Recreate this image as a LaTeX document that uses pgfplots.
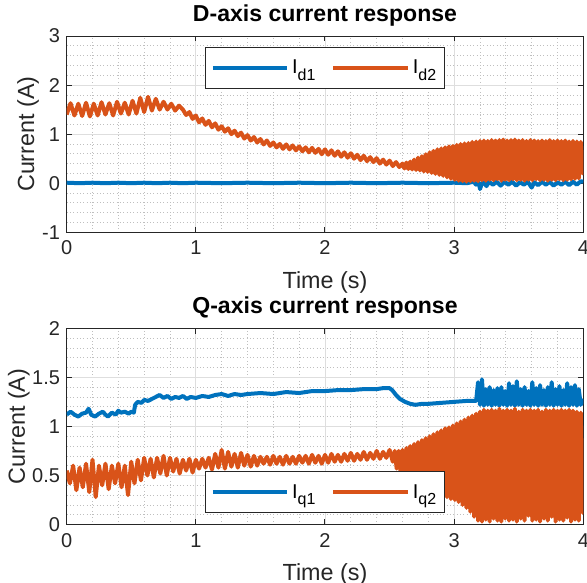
\documentclass[border=0pt]{standalone}
\usepackage{pgfplots}
\pgfplotsset{compat=1.18}
\usepackage{fontspec}
\setmainfont{Liberation Sans}
\definecolor{mblue}{rgb}{0,0.447,0.741}
\definecolor{morange}{rgb}{0.85,0.325,0.098}
\definecolor{axgray}{rgb}{0.15,0.15,0.15}
\pgfplotsset{
 mystyle/.style={
  scale only axis, width=387.5pt, height=147.2pt,
  xmin=0, xmax=4, xtick={0,1,2,3,4},
  minor x tick num=4, minor y tick num=4,
  grid=both,
  major grid style={line width=0.5pt, draw=black!13},
  minor grid style={line width=0.5pt, draw=black!25, dotted},
  axis line style={draw=axgray, line width=0.75pt},
  tick style={draw=axgray, line width=0.75pt},
  major tick length=4pt, minor tick length=0pt,
  tick align=inside,
  ticklabel style={font=\fontsize{15}{15}\selectfont, text=axgray},
  xticklabel style={yshift=-3pt},
  yticklabel style={xshift=-1.5pt},
  /pgf/number format/assume math mode=true,
  label style={font=\fontsize{17.5}{17.5}\selectfont, text=axgray},
  title style={font=\fontsize{17.3}{17.3}\selectfont\bfseries, at={(axis description cs:0.5,1)}, anchor=base, yshift=5pt},
  xlabel style={at={(axis description cs:0.5,0)}, anchor=base, yshift=-42pt},
  xlabel={Time (s)}, ylabel={Current (A)},
  legend columns=2,
  legend cell align=left,
  legend style={draw=axgray, line width=0.75pt, fill=white, font=\fontsize{15}{15}\selectfont, inner xsep=4pt, inner ysep=7.5pt, /tikz/every even column/.append style={column sep=10pt}},
  legend image code/.code={\draw[#1, line width=3pt] (0pt,0pt) -- (56pt,0pt);},
  every axis plot/.append style={line width=3pt, line join=round},
 }
}
\begin{document}
\begin{tikzpicture}
\begin{axis}[mystyle, at={(0,0)}, anchor=north west,
  ymin=-1, ymax=3, ytick={-1,0,1,2,3},
  ylabel style={at={(axis description cs:-0.0632,0.5)}, anchor=base},
  title={D-axis current response},
  legend style={at={(axis description cs:0.2677,0.944)}, anchor=north west}]
\addplot[mblue] coordinates {(0,0.01)(0.1,0.0)(0.2,0.01)(0.3,0.0)(0.4,0.01)(0.5,0.0)(0.6,0.01)(0.7,0.0)(0.8,0.01)(0.9,0.0)(1.0,0.01)(1.2,0.0)(1.4,0.01)(1.6,0.0)(1.8,0.01)(2.0,0.0)(2.2,0.01)(2.4,0.0)(2.6,0.01)(2.8,0.0)(3.0,0.01)(3.1,0.0)(3.15,0.03)(3.17,-0.03)(3.19,0.02)(3.20,-0.12)(3.21,-0.04)(3.23,0.03)(3.25,-0.06)(3.27,0.03)(3.30,-0.03)(3.33,0.03)(3.36,-0.05)(3.39,0.03)(3.42,-0.03)(3.45,0.03)(3.48,-0.05)(3.51,0.02)(3.54,-0.03)(3.57,0.03)(3.60,-0.09)(3.62,0.02)(3.65,-0.04)(3.68,0.03)(3.71,-0.03)(3.74,0.03)(3.77,-0.05)(3.80,0.02)(3.83,-0.03)(3.86,0.03)(3.89,-0.04)(3.92,0.03)(3.95,-0.03)(3.98,0.04)(4.0,0.03)};
\addlegendentry{I\raisebox{-0.6ex}{\fontsize{12}{12}\selectfont d1}}
\addplot[morange] coordinates {(0,1.40)(0.03,1.63)(0.06,1.38)(0.09,1.62)(0.12,1.37)(0.15,1.64)(0.18,1.36)(0.21,1.62)(0.24,1.38)(0.27,1.65)(0.30,1.40)(0.33,1.63)(0.36,1.38)(0.39,1.66)(0.42,1.42)(0.45,1.64)(0.48,1.40)(0.51,1.68)(0.54,1.42)(0.57,1.74)(0.60,1.45)(0.63,1.76)(0.66,1.48)(0.69,1.72)(0.72,1.50)(0.75,1.66)(0.78,1.50)(0.81,1.62)(0.84,1.48)(0.87,1.58)
(0.900,1.50)(0.925,1.39)(0.950,1.45)(0.975,1.31)(1.000,1.38)(1.025,1.24)(1.050,1.32)(1.075,1.19)(1.100,1.27)(1.125,1.14)(1.150,1.22)(1.175,1.09)(1.200,1.16)(1.225,1.05)(1.250,1.12)(1.275,1.00)(1.300,1.07)(1.325,0.96)(1.350,1.03)(1.375,0.91)(1.400,0.98)(1.425,0.87)(1.450,0.94)(1.475,0.83)(1.500,0.90)(1.525,0.79)(1.550,0.87)(1.575,0.76)(1.600,0.83)(1.625,0.73)(1.650,0.80)(1.675,0.70)(1.700,0.79)(1.725,0.69)(1.750,0.77)(1.775,0.67)(1.800,0.75)(1.825,0.65)(1.850,0.73)(1.875,0.63)(1.900,0.72)(1.925,0.62)(1.950,0.70)(1.975,0.59)(2.000,0.69)(2.025,0.58)(2.050,0.67)(2.075,0.56)(2.100,0.65)(2.125,0.54)(2.150,0.63)(2.175,0.52)(2.200,0.61)(2.225,0.50)(2.250,0.58)(2.275,0.47)(2.300,0.56)(2.325,0.45)(2.350,0.53)(2.375,0.43)(2.400,0.51)(2.425,0.40)(2.450,0.48)(2.475,0.38)(2.500,0.46)(2.525,0.35)(2.550,0.43)(2.575,0.33)(2.600,0.40)
(2.615,0.30)(2.630,0.42)(2.645,0.29)(2.660,0.44)(2.675,0.28)(2.690,0.48)(2.705,0.27)(2.720,0.52)(2.735,0.26)(2.750,0.55)(2.765,0.24)(2.780,0.59)(2.795,0.23)(2.810,0.63)(2.825,0.21)(2.840,0.66)(2.855,0.19)(2.870,0.69)(2.885,0.17)(2.900,0.71)(2.915,0.15)(2.930,0.73)(2.945,0.12)(2.960,0.75)(2.975,0.09)(2.990,0.76)(3.005,0.07)(3.020,0.78)(3.035,0.05)(3.050,0.80)(3.065,0.04)(3.080,0.81)(3.095,0.03)(3.110,0.82)(3.125,0.04)(3.140,0.84)(3.155,0.05)(3.170,0.85)(3.185,0.04)(3.200,0.86)(3.215,0.06)(3.230,0.87)(3.245,0.05)(3.260,0.86)(3.275,0.07)(3.290,0.88)(3.305,0.06)(3.320,0.87)(3.335,0.08)(3.350,0.88)(3.365,0.05)(3.380,0.89)(3.395,0.07)(3.410,0.87)(3.425,0.06)(3.440,0.88)(3.455,0.08)(3.470,0.89)(3.485,0.06)(3.500,0.87)(3.515,0.07)(3.530,0.88)(3.545,0.05)(3.560,0.86)(3.575,0.07)(3.590,0.88)(3.605,0.06)(3.620,0.87)(3.635,0.08)(3.650,0.86)(3.665,0.06)(3.680,0.87)(3.695,0.07)(3.710,0.86)(3.725,0.05)(3.740,0.88)(3.755,0.07)(3.770,0.86)(3.785,0.06)(3.800,0.87)(3.815,0.08)(3.830,0.86)(3.845,0.06)(3.860,0.87)(3.875,0.07)(3.890,0.85)(3.905,0.08)(3.920,0.86)(3.935,0.09)(3.950,0.85)(3.965,0.10)(3.980,0.84)(3.995,0.20)(4.000,0.45)};
\addlegendentry{I\raisebox{-0.6ex}{\fontsize{12}{12}\selectfont d2}}
\end{axis}
\begin{axis}[mystyle, at={(0,-219.2pt)}, anchor=north west,
  ymin=0, ymax=2, ytick={0,0.5,1,1.5,2},
  ylabel style={at={(axis description cs:-0.0807,0.5)}, anchor=base},
  title={Q-axis current response},
  legend style={at={(axis description cs:0.2677,0.0577)}, anchor=south west}]
\addplot[mblue] coordinates {(0,1.12)(0.03,1.15)(0.06,1.12)(0.09,1.10)(0.12,1.13)(0.15,1.14)(0.17,1.18)(0.19,1.12)(0.22,1.10)(0.25,1.13)(0.28,1.15)(0.30,1.12)(0.32,1.10)(0.35,1.14)(0.38,1.12)(0.40,1.16)(0.42,1.14)(0.45,1.15)(0.48,1.13)(0.50,1.15)(0.52,1.14)(0.53,1.22)(0.55,1.25)(0.58,1.24)(0.60,1.27)(0.63,1.26)(0.66,1.28)(0.69,1.30)(0.72,1.32)(0.75,1.29)(0.78,1.31)(0.81,1.28)(0.84,1.30)(0.87,1.29)(0.90,1.31)(0.93,1.28)(0.96,1.30)(1.0,1.29)(1.05,1.31)(1.1,1.30)(1.15,1.32)(1.2,1.33)(1.25,1.31)(1.3,1.33)(1.35,1.32)(1.4,1.33)(1.5,1.34)(1.6,1.33)(1.7,1.35)(1.8,1.34)(1.9,1.36)(2.0,1.36)(2.1,1.37)(2.2,1.37)(2.3,1.38)(2.4,1.38)(2.45,1.39)(2.5,1.39)(2.52,1.37)(2.55,1.32)(2.58,1.28)(2.62,1.25)(2.66,1.23)(2.7,1.22)(2.75,1.23)(2.8,1.23)(2.9,1.24)(3.0,1.25)(3.1,1.26)(3.17,1.26)
(3.185,1.45)(3.200,1.22)(3.215,1.48)(3.230,1.21)(3.245,1.38)(3.260,1.22)(3.275,1.40)(3.290,1.21)(3.305,1.37)(3.320,1.22)(3.335,1.39)(3.350,1.21)(3.365,1.40)(3.380,1.22)(3.395,1.36)(3.410,1.21)(3.425,1.44)(3.440,1.22)(3.455,1.41)(3.470,1.21)(3.485,1.46)(3.500,1.22)(3.515,1.38)(3.530,1.21)(3.545,1.40)(3.560,1.22)(3.575,1.36)(3.590,1.21)(3.605,1.45)(3.620,1.22)(3.635,1.39)(3.650,1.21)(3.665,1.42)(3.680,1.22)(3.695,1.37)(3.710,1.21)(3.725,1.40)(3.740,1.22)(3.755,1.45)(3.770,1.21)(3.785,1.38)(3.800,1.22)(3.815,1.41)(3.830,1.21)(3.845,1.37)(3.860,1.22)(3.875,1.44)(3.890,1.21)(3.905,1.40)(3.920,1.22)(3.935,1.42)(3.950,1.21)(3.965,1.38)(3.980,1.22)(4.0,1.28)};
\addlegendentry{I\raisebox{-0.6ex}{\fontsize{12}{12}\selectfont q1}}
\addplot[morange] coordinates {(0.000,0.55)(0.025,0.42)(0.050,0.60)(0.075,0.35)(0.100,0.58)(0.125,0.38)(0.150,0.62)(0.175,0.33)(0.200,0.66)(0.225,0.28)(0.250,0.60)(0.275,0.40)(0.300,0.62)(0.325,0.36)(0.350,0.60)(0.375,0.42)(0.400,0.62)(0.425,0.38)(0.450,0.60)(0.475,0.30)(0.500,0.64)(0.525,0.42)(0.550,0.66)(0.575,0.45)(0.600,0.68)(0.625,0.50)(0.650,0.67)(0.675,0.48)(0.700,0.68)(0.725,0.52)(0.750,0.70)(0.775,0.50)(0.800,0.68)(0.825,0.54)(0.850,0.67)(0.875,0.52)(0.900,0.66)(0.925,0.55)(0.950,0.67)(0.975,0.53)(1.000,0.66)
(1.025,0.57)(1.050,0.67)(1.075,0.58)(1.100,0.68)(1.125,0.56)(1.150,0.72)(1.175,0.58)(1.200,0.76)(1.225,0.57)(1.250,0.74)(1.275,0.59)(1.300,0.72)(1.325,0.58)(1.350,0.73)(1.375,0.60)(1.400,0.71)(1.425,0.59)(1.450,0.70)(1.475,0.60)(1.500,0.69)
(1.525,0.62)(1.550,0.69)(1.575,0.61)(1.600,0.70)(1.625,0.62)(1.650,0.69)(1.675,0.61)(1.700,0.70)(1.725,0.62)(1.750,0.69)(1.775,0.62)(1.800,0.70)(1.825,0.63)(1.850,0.70)(1.875,0.62)(1.900,0.71)(1.925,0.63)(1.950,0.70)(1.975,0.62)(2.000,0.71)(2.025,0.63)(2.050,0.72)(2.075,0.64)(2.100,0.71)(2.125,0.64)(2.150,0.72)(2.175,0.65)(2.200,0.73)(2.225,0.65)(2.250,0.72)(2.275,0.66)(2.300,0.74)(2.325,0.66)(2.350,0.73)(2.375,0.67)(2.400,0.75)(2.425,0.67)(2.450,0.74)(2.475,0.68)(2.500,0.76)(2.525,0.64)
(2.540,0.75)(2.555,0.57)(2.570,0.75)(2.585,0.54)(2.600,0.76)(2.615,0.51)(2.630,0.78)(2.645,0.48)(2.660,0.80)(2.675,0.45)(2.690,0.82)(2.705,0.42)(2.720,0.84)(2.735,0.40)(2.750,0.86)(2.765,0.38)(2.780,0.88)(2.795,0.36)(2.810,0.90)(2.825,0.35)(2.840,0.92)(2.855,0.33)(2.870,0.94)(2.885,0.32)(2.900,0.96)(2.915,0.30)(2.930,0.98)(2.945,0.28)(2.960,0.99)(2.975,0.26)(2.990,1.01)(3.005,0.25)(3.020,1.03)(3.035,0.23)(3.050,1.05)(3.065,0.20)(3.080,1.07)(3.095,0.17)(3.110,1.09)(3.125,0.13)(3.140,1.11)(3.155,0.08)(3.170,1.13)(3.185,0.04)(3.200,1.15)(3.215,0.03)(3.230,1.17)(3.245,0.05)(3.260,1.16)(3.275,0.03)(3.290,1.17)(3.305,0.06)(3.320,1.16)(3.335,0.04)(3.350,1.18)(3.365,0.03)(3.380,1.16)(3.395,0.06)(3.410,1.17)(3.425,0.04)(3.440,1.16)(3.455,0.05)(3.470,1.18)(3.485,0.03)(3.500,1.15)(3.515,0.06)(3.530,1.17)(3.545,0.04)(3.560,1.16)(3.575,0.09)(3.590,1.17)(3.605,0.04)(3.620,1.16)(3.635,0.05)(3.650,1.17)(3.665,0.03)(3.680,1.15)(3.695,0.06)(3.710,1.17)(3.725,0.04)(3.740,1.16)(3.755,0.08)(3.770,1.17)(3.785,0.03)(3.800,1.16)(3.815,0.05)(3.830,1.17)(3.845,0.04)(3.860,1.16)(3.875,0.07)(3.890,1.17)(3.905,0.03)(3.920,1.16)(3.935,0.05)(3.950,1.15)(3.965,0.04)(3.980,1.14)(3.995,0.12)(4.000,0.80)};
\addlegendentry{I\raisebox{-0.6ex}{\fontsize{12}{12}\selectfont q2}}
\end{axis}
\pgfresetboundingbox
\path[use as bounding box] (-50pt,27pt) rectangle (390.25pt,-410.25pt);
\end{tikzpicture}
\end{document}
